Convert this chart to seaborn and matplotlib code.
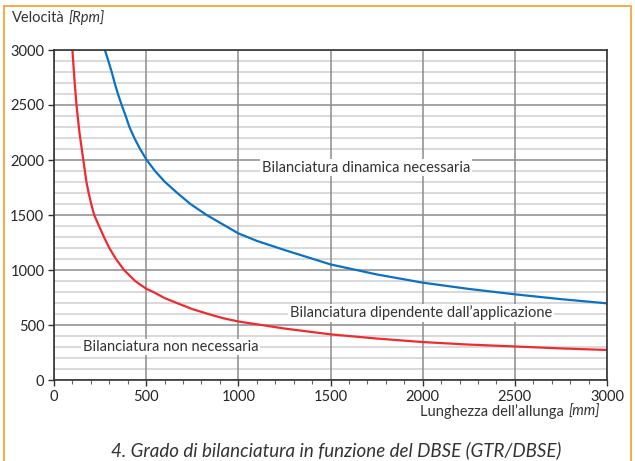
import numpy as np
import pandas as pd
import matplotlib.pyplot as plt
import matplotlib.patches as mpatches
from matplotlib.ticker import MultipleLocator
import seaborn as sns

# values
red_x = [100, 110, 122, 138, 159, 176, 188, 202, 218, 244, 271, 300, 336, 380, 440, 500,
         539, 600, 666, 750, 837, 919, 1000, 1250, 1500, 1750, 2000, 2250, 2500, 2750, 3000]
red_y = [3000, 2750, 2500, 2250, 2000, 1800, 1700, 1600, 1500, 1400, 1300, 1200, 1100, 1000,
         900, 830, 800, 745, 700, 645, 600, 561, 532, 468, 415, 377, 345, 322, 305, 287, 273]

blue_x = [276, 295, 313, 329, 347, 367, 389, 409, 436, 467, 503, 548, 602, 669, 740, 828,
          900, 1000, 1100, 1250, 1500, 1750, 2000, 2250, 2500, 2750, 3000]
blue_y = [3000, 2900, 2800, 2700, 2600, 2500, 2400, 2300, 2200, 2100, 2000, 1900, 1800, 1700,
          1600, 1500, 1430, 1333, 1265, 1182, 1051, 960, 885, 828, 779, 735, 697]

region_labels = ["Bilanciatura dinamica necessaria",
                 "Bilanciatura dipendente dall’applicazione",
                 "Bilanciatura non necessaria"]
label_x = [1128, 1280, 157]
label_y = [1930, 610, 300]

sns.set_theme(style="white")
plt.rcParams['font.family'] = ['Lato', 'DejaVu Sans']

red_df = pd.DataFrame({"x": red_x, "y": red_y})
blue_df = pd.DataFrame({"x": blue_x, "y": blue_y})

fig = plt.figure(figsize=(6.35, 4.61), dpi=100)
fig.patch.set_facecolor("white")
ax = fig.add_axes([54 / 635, 1 - 380 / 461, 553 / 635, 330 / 461])

# gridlines
ax.yaxis.set_major_locator(MultipleLocator(500))
ax.yaxis.set_minor_locator(MultipleLocator(100))
ax.xaxis.set_major_locator(MultipleLocator(500))
ax.xaxis.set_minor_locator(MultipleLocator(100))
ax.grid(which="minor", axis="y", color="#cfcfcf", linewidth=1.1)
ax.grid(which="major", axis="y", color="#8c8c8c", linewidth=1.1)
ax.grid(which="major", axis="x", color="#8c8c8c", linewidth=1.1)
ax.set_axisbelow(True)
ax.yaxis.set_zorder(0.5)
ax.xaxis.set_zorder(0.6)

sns.lineplot(data=blue_df, x="x", y="y", color="#0a72c2", linewidth=1.6, ax=ax, sort=False)
sns.lineplot(data=red_df, x="x", y="y", color="#ee2b2f", linewidth=1.6, ax=ax, sort=False)

ax.set_xlim(0, 3000)
ax.set_ylim(0, 3000)
ax.set_xlabel("")
ax.set_ylabel("")

for s in ax.spines.values():
    s.set_color("#333333")
    s.set_linewidth(1.2)

ax.tick_params(axis="y", which="major", direction="out", length=4, width=1,
               color="#333333", labelsize=10.5, labelcolor="#262626", pad=3, left=True)
ax.tick_params(axis="y", which="minor", left=False)
ax.tick_params(axis="x", which="major", direction="out", length=4, width=1,
               color="#333333", labelsize=10.5, labelcolor="#262626", pad=3, bottom=True)
ax.tick_params(axis="x", which="minor", direction="out", length=3, width=0.8,
               color="#666666", bottom=True)

for txt, lx, ly in zip(region_labels, label_x, label_y):
    ax.text(lx, ly, txt, fontsize=10.5, color="#333333", ha="left", va="center",
            bbox=dict(facecolor="white", edgecolor="none", pad=1.0), zorder=3)

# axis titles
t1 = fig.text(12 / 635, 1 - 18 / 461, "Velocità", fontsize=10.5, color="#333333",
              ha="left", va="center")
ax.annotate("[Rpm]", xy=(1, 0.5), xycoords=t1, xytext=(3, 0), textcoords="offset points",
            fontsize=10.5, color="#333333", style="italic", ha="left", va="center",
            annotation_clip=False)
t2 = fig.text(600 / 635, 1 - 412 / 461, "[mm]", fontsize=10.5, color="#333333",
              style="italic", ha="right", va="center")
ax.annotate("Lunghezza dell’allunga", xy=(0, 0.5), xycoords=t2, xytext=(-3, 0),
            textcoords="offset points", fontsize=10.5, color="#333333",
            ha="right", va="center", annotation_clip=False)

# caption
fig.text(336 / 635, 1 - 450 / 461, "4. Grado di bilanciatura in funzione del DBSE (GTR/DBSE)",
         fontsize=13.5, style="italic", color="#333333", ha="center", va="center")

# orange frame
frame = mpatches.Rectangle((4 / 635, -0.05), 627 / 635, 1 - 6 / 461 + 0.05,
                           transform=fig.transFigure, fill=False,
                           edgecolor="#f7a43c", linewidth=1.3)
fig.patches.append(frame)

fig.savefig("out.png", dpi=100)
